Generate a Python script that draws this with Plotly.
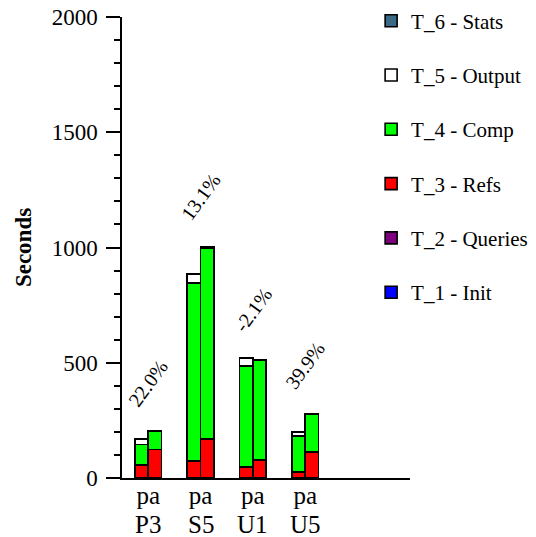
import plotly.graph_objects as go

categories = ["P3", "S5", "U1", "U5"]
variants = ["p", "a"]

# seconds per phase, per configuration (p / a)
T1_p = [0, 0, 0, 0]
T1_a = [0, 0, 0, 0]
T2_p = [0, 0, 0, 0]
T2_a = [0, 0, 0, 0]
T3_p = [56, 74, 49, 27]
T3_a = [124, 168, 77, 114]
T4_p = [90, 771, 437, 155]
T4_a = [80, 828, 432, 164]
T5_p = [21, 41, 34, 17]
T5_a = [2, 5, 2, 2]
T6_p = [2, 2, 2, 2]
T6_a = [0, 2, 0, 0]

pct_labels = ["22.0%", "13.1%", "-2.1%", "39.9%"]
pct_y = [412, 1219, 729, 490]

series = [
    ("T_1 - Init", "#0000ff", T1_p, T1_a),
    ("T_2 - Queries", "#7f007f", T2_p, T2_a),
    ("T_3 - Refs", "#ff0000", T3_p, T3_a),
    ("T_4 - Comp", "#00ff00", T4_p, T4_a),
    ("T_5 - Output", "#ffffff", T5_p, T5_a),
    ("T_6 - Stats", "#3a6a85", T6_p, T6_a),
]

off = 0.127
width = 0.254
group_x = list(range(len(categories)))
xs = [g - off for g in group_x] + [g + off for g in group_x]

FONT = "Times New Roman"

fig = go.Figure()
n = len(series)
for i, (name, color, vp, va) in enumerate(series):
    fig.add_trace(go.Bar(
        x=xs, y=list(vp) + list(va), name=name, legendgroup=name,
        legendrank=n - i, width=width,
        marker=dict(color=color, line=dict(color="black", width=1.6)),
    ))

for gx, lab, yy in zip(group_x, pct_labels, pct_y):
    fig.add_annotation(x=gx, y=yy, text=lab, showarrow=False, textangle=-54,
                       font=dict(family=FONT, size=20, color="black"))

for gx, cat in zip(group_x, categories):
    fig.add_annotation(x=gx, xref="x", y=0, yref="paper", yshift=-32,
                       text=cat, showarrow=False, yanchor="top", borderpad=0,
                       font=dict(family=FONT, size=25, color="black"))

fig.update_layout(
    barmode="stack",
    width=536, height=537,
    margin=dict(l=122, r=126, t=17, b=59, autoexpand=False),
    paper_bgcolor="white", plot_bgcolor="white",
    font=dict(family=FONT, size=23, color="black"),
    showlegend=True,
    legend=dict(tracegroupgap=24, traceorder="grouped",
                x=0.865, xanchor="left", yref="container", y=0.999,
                yanchor="top", maxheight=1,
                font=dict(family=FONT, size=21, color="black"),
                bgcolor="rgba(0,0,0,0)"),
    xaxis=dict(range=[-0.5, 5.0], tickvals=group_x,
               ticktext=["pa"] * len(categories), showline=True,
               linecolor="black", linewidth=1.5, ticks="", ticklen=0,
               ticklabelstandoff=-6,
               showgrid=False, zeroline=False, tickfont=dict(size=25)),
    yaxis=dict(range=[0, 2000], tickvals=[0, 500, 1000, 1500, 2000],
               showline=True, linecolor="black", linewidth=1.5,
               ticks="outside", ticklen=14, tickwidth=1.5, tickcolor="black",
               ticklabelstandoff=4,
               minor=dict(dtick=100, ticks="outside", ticklen=6, tickwidth=1.5,
                          tickcolor="black", showgrid=False),
               showgrid=False, zeroline=False,
               title=dict(text="<b>Seconds</b>", standoff=14,
                          font=dict(size=23))),
)

fig.write_html("out.html")
